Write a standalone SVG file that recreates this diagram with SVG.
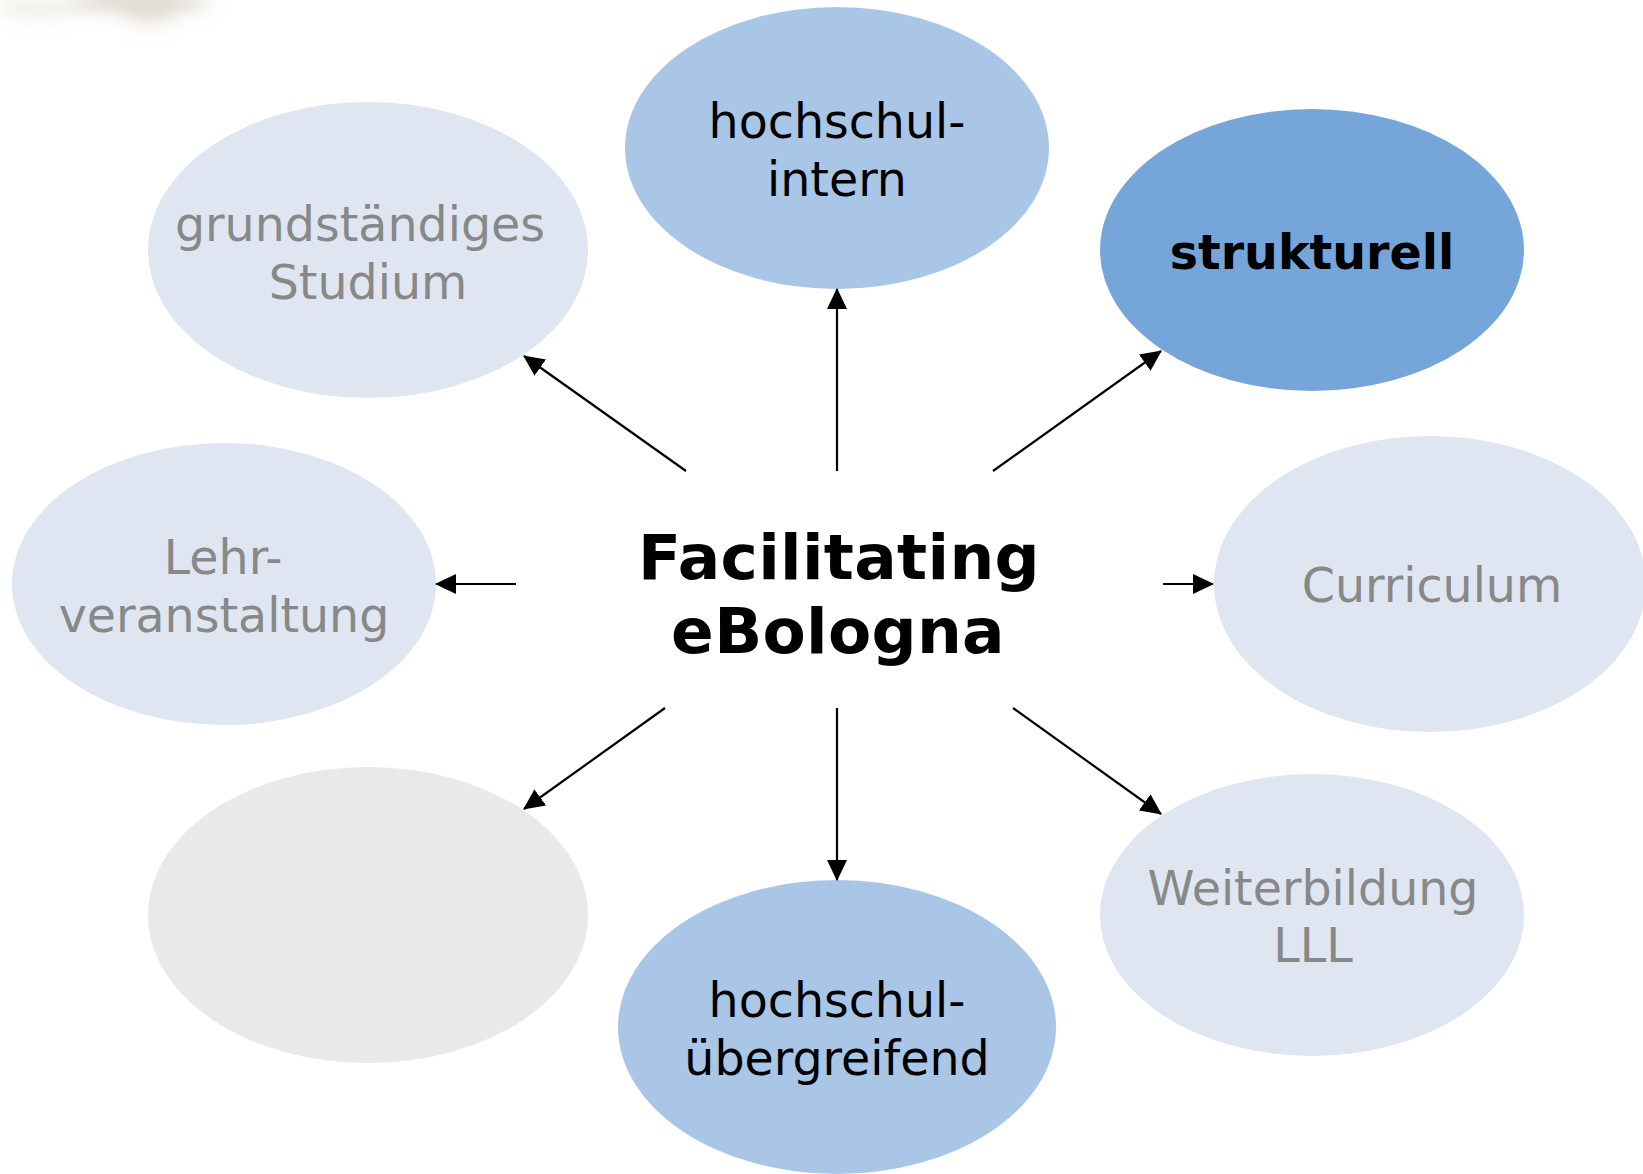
<svg xmlns="http://www.w3.org/2000/svg" width="1643" height="1174" viewBox="0 0 1643 1174">
<style>
.t{font-family:"DejaVu Sans",Verdana,sans-serif;font-size:47.5px;text-anchor:middle}
.g{fill:#888888}
.k{fill:#000000}
.b{font-weight:bold}
.c{font-family:"DejaVu Sans",Verdana,sans-serif;font-size:63px;font-weight:bold;text-anchor:middle;fill:#000;letter-spacing:0.3px}
.mid{fill:#a9c6e7}
.dark{fill:#76a6d9}
.light{fill:#dfe6f1}
.grey{fill:#e9e9e9}
.con line{stroke:#000;stroke-width:2.2;marker-end:url(#ah)}
</style>
<defs>
<marker id="ah" markerWidth="21" markerHeight="20" refX="20" refY="10" orient="auto" markerUnits="userSpaceOnUse" viewBox="0 0 21 20">
<path d="M0,0 L21,10 L0,20 Z" fill="#000"/>
</marker>
<filter id="blur" x="-50%" y="-50%" width="200%" height="200%"><feGaussianBlur stdDeviation="9"/></filter>
</defs>
<rect width="1643" height="1174" fill="#fff"/>
<g id="corner" filter="url(#blur)">
<ellipse cx="140" cy="2" rx="70" ry="10" fill="#c2b9a6" opacity="0.6"/>
<ellipse cx="40" cy="8" rx="45" ry="8" fill="#ddd8ca" opacity="0.5"/>
<ellipse cx="150" cy="18" rx="25" ry="8" fill="#cfc9bb" opacity="0.4"/>
</g>
<g id="n-hochschul-intern">
<ellipse class="mid" cx="837" cy="148" rx="212" ry="141"/>
<text class="t k" x="837" y="138">hochschul-</text>
<text class="t k" x="837" y="196">intern</text>
</g>
<g id="n-strukturell">
<ellipse class="dark" cx="1312" cy="250" rx="212" ry="141"/>
<text class="t k b" x="1312" y="269">strukturell</text>
</g>
<g id="n-grundstaendiges">
<ellipse class="light" cx="368" cy="250" rx="220" ry="148"/>
<text class="t g" x="360" y="241">grundständiges</text>
<text class="t g" x="368" y="299">Studium</text>
</g>
<g id="n-lehrveranstaltung">
<ellipse class="light" cx="224" cy="584" rx="212" ry="141"/>
<text class="t g" x="223" y="574">Lehr-</text>
<text class="t g" x="224" y="632">veranstaltung</text>
</g>
<g id="n-curriculum">
<ellipse class="light" cx="1430" cy="584" rx="216" ry="148"/>
<text class="t g" x="1432" y="602">Curriculum</text>
</g>
<g id="n-blank">
<ellipse class="grey" cx="368" cy="915" rx="220" ry="148"/>
</g>
<g id="n-hochschul-uebergreifend">
<ellipse class="mid" cx="837" cy="1027" rx="219" ry="147"/>
<text class="t k" x="837" y="1017">hochschul-</text>
<text class="t k" x="837" y="1075">übergreifend</text>
</g>
<g id="n-weiterbildung">
<ellipse class="light" cx="1312" cy="915" rx="212" ry="141"/>
<text class="t g" x="1313" y="905">Weiterbildung</text>
<text class="t g" x="1313" y="962">LLL</text>
</g>
<g id="n-center">
<text class="c" x="839" y="579">Facilitating</text>
<text class="c" x="838" y="653">eBologna</text>
</g>
<g id="connectors" class="con">
<line x1="686" y1="471" x2="524" y2="356"/>
<line x1="837" y1="471" x2="837" y2="289"/>
<line x1="993" y1="471" x2="1161" y2="351"/>
<line x1="516" y1="584" x2="436" y2="584"/>
<line x1="1163" y1="584" x2="1213" y2="584"/>
<line x1="665" y1="708" x2="524" y2="809"/>
<line x1="837" y1="708" x2="837" y2="880"/>
<line x1="1013" y1="708" x2="1161" y2="814"/>
</g>
</svg>
